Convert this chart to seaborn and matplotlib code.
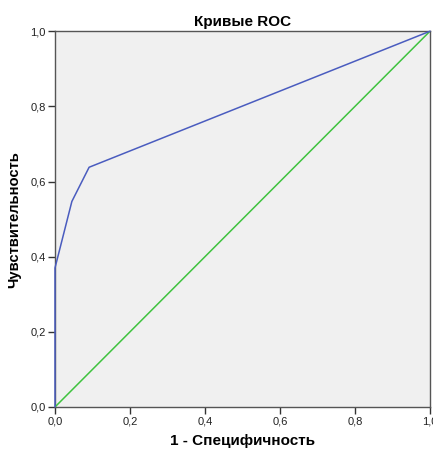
import matplotlib
matplotlib.use("Agg")
import matplotlib.pyplot as plt
import seaborn as sns
import pandas as pd
from matplotlib.ticker import FuncFormatter

# ROC data
fpr = [0.0, 0.0, 0.045, 0.091, 1.0]
tpr = [0.0, 0.37, 0.547, 0.638, 1.0]
ref_x = [0.0, 1.0]
ref_y = [0.0, 1.0]
ticks = [0.0, 0.2, 0.4, 0.6, 0.8, 1.0]

sns.set_style("ticks")
plt.rcParams['font.family'] = ['Liberation Sans', 'DejaVu Sans']
plt.rcParams['text.color'] = 'black'
plt.rcParams['axes.labelcolor'] = 'black'

fig = plt.figure(figsize=(4.33, 4.5), dpi=100)
ax = fig.add_axes([0.127, 0.0956, 0.866, 0.835])
ax.set_facecolor('#f0f0f0')

roc = pd.DataFrame({"x": fpr, "y": tpr})
ref = pd.DataFrame({"x": ref_x, "y": ref_y})
sns.lineplot(data=ref, x="x", y="y", ax=ax, color='#3fc33f', linewidth=1.1,
             sort=False, estimator=None, zorder=3)
sns.lineplot(data=roc, x="x", y="y", ax=ax, color='#4a5cbf', linewidth=1.1,
             sort=False, estimator=None, zorder=4, clip_on=False)

ax.set_xlim(0, 1)
ax.set_ylim(0, 1)
ax.set_xticks(ticks)
ax.set_yticks(ticks)
fmt = FuncFormatter(lambda v, p: f"{v:.1f}".replace('.', ','))
ax.xaxis.set_major_formatter(fmt)
ax.yaxis.set_major_formatter(fmt)
ax.tick_params(axis='both', labelsize=8, length=5, width=1, color='#333333', labelcolor='#222222', pad=1.5)
for s in ax.spines.values():
    s.set_color('#555555')
    s.set_linewidth(1.0)
    s.set_visible(True)

ax.set_title("Кривые ROC", fontsize=11, fontweight='bold', pad=4, color='black')
ax.set_xlabel("1 - Специфичность", fontsize=11, fontweight='bold', labelpad=6)
ax.set_ylabel("Чувствительность", fontsize=10.6, fontweight='bold', labelpad=7)

fig.savefig("out.png", dpi=100)
